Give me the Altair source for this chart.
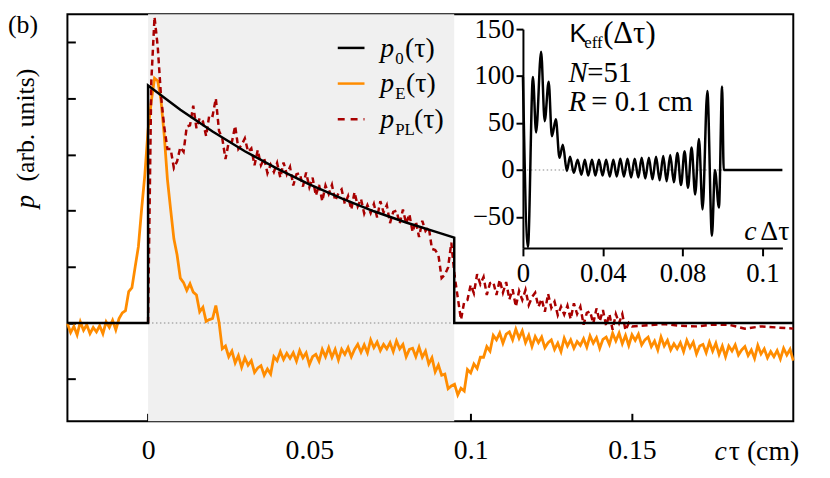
import altair as alt
import pandas as pd

# ---------------- data ----------------
# main panel, x = c*tau in cm, sampled every 0.001 cm
PE_T0 = -0.025
DT = 0.001
P_E = [
    -0.01, -0.17, -0.06, -0.21, 0.02, -0.13, -0.03, -0.19, -0.08, -0.16,
    -0.05, -0.19, 0.02, -0.08, 0.05, -0.12, 0.08, 0.18, 0.22, 0.56,
    0.63, 1.0, 1.36, 2.03, 2.64, 3.44, 3.95, 4.36, 4.31, 3.97,
    3.35, 2.56, 2.02, 1.5, 1.21, 0.8, 0.72, 0.58, 0.7, 0.55,
    0.5, 0.2, 0.28, 0.03, 0.06, 0.08, 0.31, 0.01, -0.46, -0.41,
    -0.6, -0.5, -0.71, -0.58, -0.79, -0.62, -0.75, -0.67, -0.88, -0.8,
    -0.76, -0.93, -0.82, -0.91, -0.6, -0.67, -0.51, -0.65, -0.54, -0.63,
    -0.53, -0.68, -0.49, -0.62, -0.53, -0.74, -0.6, -0.56, -0.68, -0.47,
    -0.6, -0.44, -0.61, -0.47, -0.66, -0.47, -0.56, -0.44, -0.6, -0.47,
    -0.38, -0.52, -0.39, -0.53, -0.3, -0.44, -0.34, -0.49, -0.38, -0.46,
    -0.35, -0.51, -0.32, -0.46, -0.38, -0.6, -0.47, -0.45, -0.6, -0.43,
    -0.61, -0.5, -0.73, -0.62, -0.87, -0.75, -0.93, -0.91, -1.17, -1.12,
    -1.09, -1.28, -1.16, -1.21, -0.83, -0.89, -0.73, -0.81, -0.61, -0.61,
    -0.42, -0.5, -0.22, -0.3, -0.18, -0.36, -0.2, -0.16, -0.3, -0.11,
    -0.27, -0.14, -0.35, -0.22, -0.42, -0.24, -0.35, -0.25, -0.44, -0.35,
    -0.3, -0.47, -0.36, -0.51, -0.27, -0.41, -0.3, -0.45, -0.33, -0.4,
    -0.28, -0.43, -0.23, -0.36, -0.26, -0.45, -0.29, -0.25, -0.38, -0.18,
    -0.32, -0.18, -0.37, -0.22, -0.4, -0.21, -0.31, -0.2, -0.39, -0.3,
    -0.25, -0.42, -0.32, -0.48, -0.25, -0.41, -0.31, -0.48, -0.37, -0.46,
    -0.35, -0.51, -0.31, -0.44, -0.34, -0.55, -0.41, -0.38, -0.53, -0.34,
    -0.5, -0.36, -0.56, -0.41, -0.6, -0.41, -0.5, -0.39, -0.57, -0.48,
    -0.42, -0.58, -0.48, -0.63, -0.4, -0.55, -0.46, -0.62, -0.51, -0.6,
    -0.49, -0.64, -0.45, -0.57, -0.47, -0.67,
]

P_PL_T0 = 0.0
P_PL = [
    0.0, 4.3, 5.45, 4.92, 4.05, 3.5, 3.1, 3.1, 2.76, 2.88,
    3.13, 3.05, 3.5, 3.52, 3.87, 3.47, 3.65, 3.59, 3.33, 3.71,
    3.69, 4.0, 3.42, 3.29, 2.92, 3.22, 3.23, 3.51, 3.1, 3.17,
    3.29, 3.05, 3.11, 2.81, 3.08, 2.81, 2.93, 2.67, 2.82, 2.69,
    2.85, 2.59, 2.86, 2.65, 2.78, 2.45, 2.65, 2.67, 2.43, 2.68,
    2.42, 2.59, 2.27, 2.46, 2.17, 2.45, 2.3, 2.46, 2.18, 2.31,
    2.38, 2.12, 2.26, 2.02, 2.33, 2.08, 2.21, 1.95, 2.1, 1.96,
    2.12, 1.88, 2.17, 1.97, 2.1, 1.78, 1.98, 2.0, 1.77, 2.02,
    1.77, 1.94, 1.62, 1.81, 1.53, 1.82, 1.64, 1.71, 1.32, 1.3,
    1.21, 0.8, 0.86, 0.99, 1.43, 0.85, 0.45, 0.06, 0.38, 0.41,
    0.68, 0.53, 0.87, 0.69, 0.82, 0.5, 0.71, 0.73, 0.5, 0.77,
    0.54, 0.73, 0.42, 0.6, 0.29, 0.57, 0.41, 0.59, 0.32, 0.46,
    0.54, 0.29, 0.43, 0.2, 0.52, 0.27, 0.38, 0.14, 0.29, 0.15,
    0.31, 0.07, 0.35, 0.16, 0.29, -0.03, 0.18, 0.21, -0.01, 0.26,
    0.03, 0.23, -0.05, 0.16, -0.12, 0.16, 0.0, 0.16, -0.13, 0.0,
    -0.06,
]
P_PL_TAIL_T = [0.155, 0.16, 0.165, 0.17, 0.175, 0.18, 0.185, 0.19, 0.195, 0.2]
P_PL_TAIL = [-0.04, -0.02, -0.05, -0.06, -0.03, -0.03, -0.1, -0.06, -0.08, -0.1]

P0_T = [-0.025, 0.0, 0.0, 0.01, 0.02, 0.03, 0.04, 0.05, 0.06, 0.07, 0.08, 0.09, 0.0949, 0.0949, 0.2]
P0 = [0, 0, 4.23, 3.80, 3.41, 3.06, 2.75, 2.47, 2.22, 1.99, 1.79, 1.61, 1.52, 0, 0]

SHADE = [0.0, 0.0949]

# inset K_eff(c*dtau)
K_X = [0, 0.0025, 0.005, 0.0066, 0.0091, 0.0109, 0.0129, 0.0145, 0.0165, 0.0183,
       0.0200, 0.0220, 0.0236, 0.0255, 0.0274, 0.0293, 0.0310, 0.0327, 0.0346, 0.0363,
       0.0381, 0.0399, 0.0417, 0.0435, 0.0453, 0.0470, 0.0488, 0.0506, 0.0524, 0.0542,
       0.0560, 0.0578, 0.0595, 0.0613, 0.0631, 0.0649, 0.0667, 0.0685, 0.0703, 0.0720,
       0.0738, 0.0756, 0.0774, 0.0792, 0.0810, 0.0827, 0.0845, 0.0863, 0.0882, 0.0900,
       0.0924, 0.0947, 0.0962, 0.0982, 0.0998, 0.1006, 0.13]
K_Y = [99, -82, 99, 40, 126, 52, 94, 36, 54, 13,
       27, -1, 14, -3, 11, -5, 11, -6, 11, -6,
       11, -6, 11, -7, 11, -7, 12, -7, 12, -8,
       12, -8, 13, -9, 13, -10, 14, -11, 15, -12,
       16, -13, 18, -16, 20, -19, 24, -26, 33, -42,
       84, -70, 0, -40, 89, 0, 0]

X_DOM = [-0.025, 0.2]
Y_DOM = [-1.75, 5.5]
X_TICKS = [0, 0.05, 0.1, 0.15]
Y_TICKS = [-1, 0, 1, 2, 3, 4, 5]
K_XDOM = [0, 0.13]
K_YDOM = [-83, 150]
K_XTICKS = [0, 0.04, 0.08, 0.12]
K_YTICKS = [-50, 0, 50, 100, 150]

# ---------------- layout / style ----------------
W, H = 733, 411
SERIF = "'Liberation Serif', 'Times New Roman', Times, serif"
SANS = "'Liberation Sans', Arial, Helvetica, sans-serif"
ORANGE = "#ff8c00"
DRED = "#a80000"
INSET_X_RANGE = [460, 722]
INSET_Y_RANGE = [236, 15]

XS = alt.Scale(domain=X_DOM, nice=False, zero=False)
YS = alt.Scale(domain=Y_DOM, nice=False, zero=False)
KXS = alt.Scale(domain=K_XDOM, range=INSET_X_RANGE, nice=False, zero=False)
KYS = alt.Scale(domain=K_YDOM, range=INSET_Y_RANGE, nice=False, zero=False)

df_e = pd.DataFrame({"t": [round(PE_T0 + DT * i, 4) for i in range(len(P_E))], "p": P_E})
df_pl = pd.DataFrame({
    "t": [round(P_PL_T0 + DT * i, 4) for i in range(len(P_PL))] + P_PL_TAIL_T,
    "p": P_PL + P_PL_TAIL,
})
df_0 = pd.DataFrame({"t": P0_T, "p": P0, "i": list(range(len(P0)))})
df_k = pd.DataFrame({"t": K_X, "k": K_Y})
df_shade = pd.DataFrame({"a": [SHADE[0]], "b": [SHADE[1]]})
df_zero = pd.DataFrame({"a": [SHADE[0]], "b": [X_DOM[1]], "y": [0]})
df_kzero = pd.DataFrame({"a": [K_XDOM[0]], "b": [K_XDOM[1]], "y": [0]})

shade = alt.Chart(df_shade).mark_rect(color="#f0f0f0").encode(
    x=alt.X("a:Q", scale=XS, axis=None), x2="b:Q",
    y=alt.value(0), y2=alt.value(H))

zero = alt.Chart(df_zero).mark_rule(color="#888888", strokeWidth=1, strokeDash=[1.5, 2.5]).encode(
    x=alt.X("a:Q", scale=XS, axis=None), x2="b:Q",
    y=alt.Y("y:Q", scale=YS, axis=None))

kzero = alt.Chart(df_kzero).mark_rule(color="#888888", strokeWidth=1, strokeDash=[1.5, 2.5]).encode(
    x=alt.X("a:Q", scale=KXS, axis=None), x2="b:Q",
    y=alt.Y("y:Q", scale=KYS, axis=None))

orange = alt.Chart(df_e).mark_line(color=ORANGE, strokeWidth=2.8).encode(
    x=alt.X("t:Q", scale=XS, axis=alt.Axis(
        orient="bottom", values=X_TICKS, format="~g", ticks=False, tickSize=0, domain=False,
        labelFontSize=28, labelFont=SERIF, labelPadding=38, labelBaseline="alphabetic",
        labelFlush=False, title=None)),
    y=alt.Y("p:Q", scale=YS, axis=alt.Axis(
        orient="right", offset=-W, values=Y_TICKS, labels=False, domain=False,
        ticks=True, tickSize=8, tickWidth=2, title=None)))

red = alt.Chart(df_pl).mark_line(color=DRED, strokeWidth=2.5, strokeDash=[6, 4]).encode(
    x=alt.X("t:Q", scale=XS, axis=None),
    y=alt.Y("p:Q", scale=YS, axis=None))

black = alt.Chart(df_0).mark_line(color="black", strokeWidth=2.5).encode(
    x=alt.X("t:Q", scale=XS, axis=alt.Axis(
        orient="top", offset=-H, values=X_TICKS, labels=False, domain=False,
        ticks=True, tickSize=8, tickWidth=2, title=None)),
    y=alt.Y("p:Q", scale=YS, axis=None),
    order="i:Q")

kline = alt.Chart(df_k).mark_line(color="black", strokeWidth=2.5, interpolate="monotone").encode(
    x=alt.X("t:Q", scale=KXS, axis=alt.Axis(
        orient="bottom", offset=INSET_Y_RANGE[0] - H, values=K_XTICKS, format="~g",
        domain=True, domainWidth=2, ticks=True, tickSize=8, tickWidth=2,
        labelFontSize=27, labelFont=SERIF, labelPadding=26, labelBaseline="alphabetic",
        labelFlush=False, title=None)),
    y=alt.Y("k:Q", scale=KYS, axis=alt.Axis(
        orient="left", offset=-INSET_X_RANGE[0], values=K_YTICKS,
        domain=True, domainWidth=2, ticks=True, tickSize=7, tickWidth=2,
        labelFontSize=27, labelFont=SERIF, labelPadding=2, labelFlush=False, title=None)))


def txt(s, x, y, size=28, style="normal", font=SERIF, align="left", angle=0):
    return alt.Chart(pd.DataFrame({"s": [s]})).mark_text(
        align=align, baseline="alphabetic", font=font, fontSize=size,
        fontStyle=style, angle=angle, color="black").encode(
        x=alt.value(x), y=alt.value(y), text="s:N")


def lrule(y, color, dash=None):
    kw = dict(color=color, strokeWidth=2.5)
    if dash:
        kw["strokeDash"] = dash
    return alt.Chart(pd.DataFrame({"a": [0]})).mark_rule(**kw).encode(
        x=alt.value(273), x2=alt.value(300), y=alt.value(y))


texts = [
    txt("(b)", -60, 19, size=26),
    txt("p", -34, 196, style="italic", angle=270, size=27),
    txt("(arb. units)", -34, 169, angle=270, size=26),
    # legend
    lrule(34, "black"), lrule(70, ORANGE), lrule(106, DRED, [7, 6]),
    txt("p", 316, 43, style="italic"), txt("0", 331, 50, size=17), txt("(τ)", 341, 43),
    txt("p", 316, 79, style="italic"), txt("E", 331, 86, size=17), txt("(τ)", 342, 79),
    txt("p", 316, 115, style="italic"), txt("PL", 331, 122, size=17), txt("(τ)", 350, 115),
    # inset annotations
    txt("K", 507, 28, size=26, font=SANS), txt("eff", 522, 34, size=17), txt("(Δτ)", 541, 29, size=31),
    txt("N", 506, 68, size=29, style="italic"), txt("=51", 525, 68, size=29),
    txt("R", 506, 98, size=29, style="italic"), txt("= 0.1 cm", 529, 98, size=29),
    txt("Δτ", 729, 228, size=28, align="right"), txt("c", 696, 228, size=28, style="italic", align="right"),
    # main x title
    txt("τ (cm)", 739, 450, size=28, align="right"), txt("c", 666, 450, size=28, style="italic", align="right"),
]

chart = alt.layer(shade, zero, kzero, orange, red, black, kline, *texts).resolve_scale(
    x="independent", y="independent").resolve_axis(x="independent", y="independent").properties(
    width=W, height=H,
    autosize=alt.AutoSizeParams(type="none"),
    padding={"left": 60, "top": 4, "right": 29, "bottom": 55},
).configure_view(stroke="black", strokeWidth=2).configure_axis(
    grid=False, tickColor="black", domainColor="black", labelColor="black", labelFont=SERIF)

chart.save("out.html", embed_options={"renderer": "svg", "actions": False})
